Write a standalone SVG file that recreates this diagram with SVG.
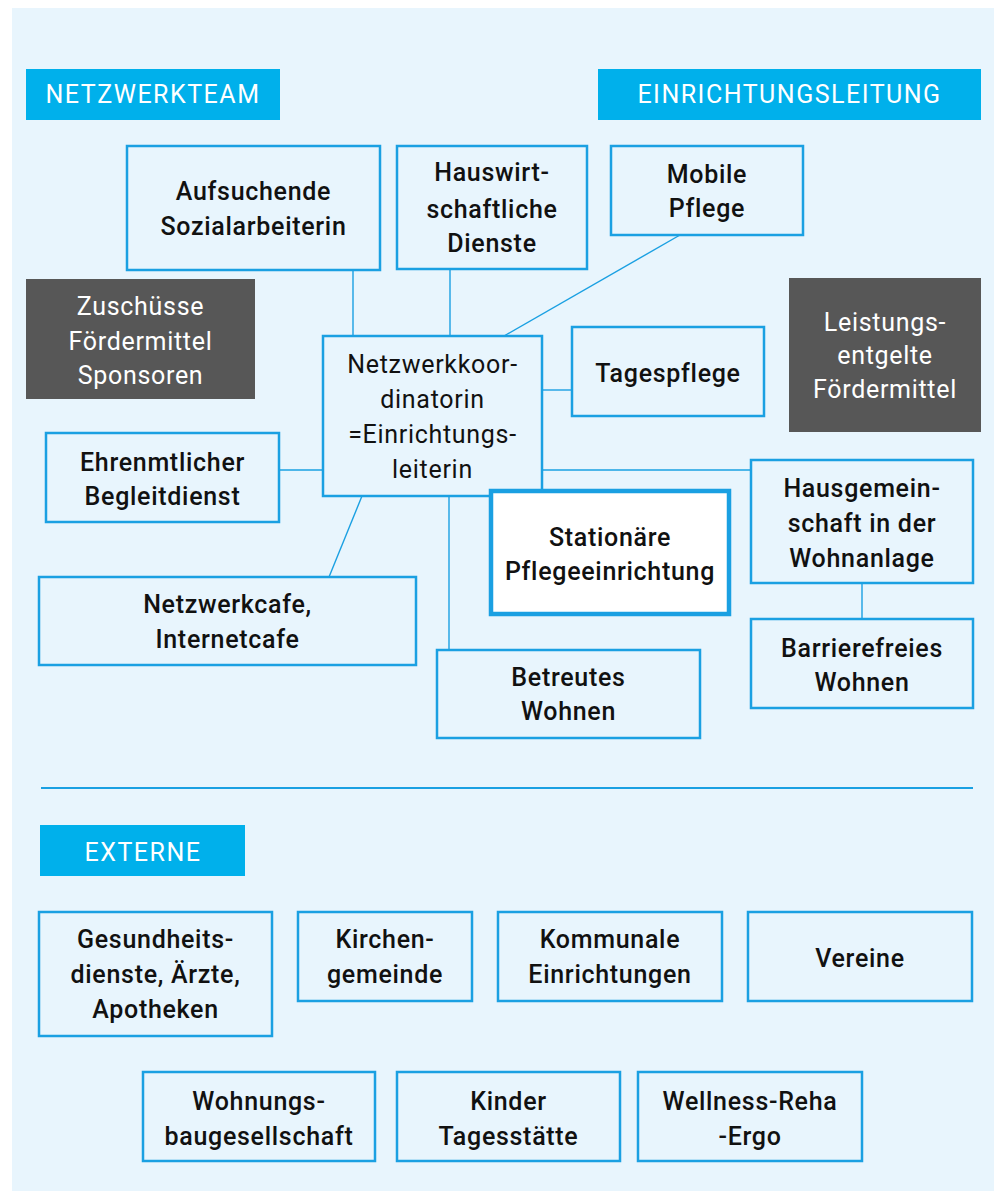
<svg xmlns="http://www.w3.org/2000/svg" width="994" height="1191" viewBox="0 0 994 1191">
<style>
.bx{fill:none;stroke:#1AA0E2;stroke-width:2.5}
.dk{fill:#575757}
.hd{fill:#00B0EB}
.t{font-family:Roboto,"Open Sans","Liberation Sans",sans-serif;font-size:25px;font-weight:500;fill:#111;text-anchor:middle;letter-spacing:0.7px}
.tl{font-weight:400}
.tw{fill:#fff;font-weight:400}
.th{font-family:Roboto,"Open Sans","Liberation Sans",sans-serif;font-size:25px;fill:#fff;text-anchor:middle;letter-spacing:1.5px}
.c{stroke:#1AA0E2;stroke-width:1.4;fill:none}
</style>
<rect x="12" y="8" width="982" height="1183" fill="#E8F5FD"/>
<g id="connectors">
<line class="c" x1="353" y1="270" x2="353" y2="336"/>
<line class="c" x1="450" y1="269" x2="450" y2="336"/>
<line class="c" x1="680" y1="235" x2="504" y2="336"/>
<line class="c" x1="542" y1="390" x2="572" y2="390"/>
<line class="c" x1="279" y1="470" x2="323" y2="470"/>
<line class="c" x1="542" y1="470" x2="751" y2="470"/>
<line class="c" x1="362" y1="496" x2="329" y2="577"/>
<line class="c" x1="449" y1="496" x2="449" y2="650"/>
<line class="c" x1="862" y1="583" x2="862" y2="619"/>
</g>
<line x1="41" y1="788" x2="973" y2="788" stroke="#1AA0E2" stroke-width="2"/>
<g id="netzwerkteam"><rect class="hd" x="26" y="69" width="254" height="51"/><text class="th" x="153" y="103">NETZWERKTEAM</text></g>
<g id="einrichtungsleitung"><rect class="hd" x="598" y="69" width="383" height="51"/><text class="th" x="789.5" y="103">EINRICHTUNGSLEITUNG</text></g>
<g id="externe"><rect class="hd" x="40" y="825" width="205" height="51"/><text class="th" x="143" y="861">EXTERNE</text></g>
<g id="aufsuchende"><rect class="bx" x="127" y="146" width="253" height="124"/><text class="t" x="253.5" y="200">Aufsuchende</text><text class="t" x="253.5" y="235">Sozialarbeiterin</text></g>
<g id="hauswirtschaft"><rect class="bx" x="397" y="146" width="190" height="123"/><text class="t" x="492" y="181">Hauswirt-</text><text class="t" x="492" y="218">schaftliche</text><text class="t" x="492" y="252">Dienste</text></g>
<g id="mobile"><rect class="bx" x="611" y="146" width="192" height="89"/><text class="t" x="707" y="183">Mobile</text><text class="t" x="707" y="217">Pflege</text></g>
<g id="tagespflege"><rect class="bx" x="572" y="327" width="192" height="89"/><text class="t" x="668" y="382">Tagespflege</text></g>
<g id="leistungsentgelte"><rect class="dk" x="789" y="278" width="192" height="154"/><text class="t tw" x="885" y="331">Leistungs-</text><text class="t tw" x="885" y="364">entgelte</text><text class="t tw" x="885" y="398">Fördermittel</text></g>
<g id="zuschuesse"><rect class="dk" x="26" y="279" width="229" height="120"/><text class="t tw" x="140.5" y="315">Zuschüsse</text><text class="t tw" x="140.5" y="350">Fördermittel</text><text class="t tw" x="140.5" y="384">Sponsoren</text></g>
<g id="koordinatorin"><rect class="bx" x="323" y="336" width="219" height="160"/><text class="t tl" x="432.5" y="373">Netzwerkkoor-</text><text class="t tl" x="432.5" y="408">dinatorin</text><text class="t tl" x="432.5" y="443">=Einrichtungs-</text><text class="t tl" x="432.5" y="478">leiterin</text></g>
<g id="ehrenamt"><rect class="bx" x="46" y="433" width="233" height="89"/><text class="t" x="162.5" y="471">Ehrenmtlicher</text><text class="t" x="162.5" y="505">Begleitdienst</text></g>
<g id="stationaer"><rect x="491" y="491" width="238" height="123" fill="#fff" stroke="#1AA0E2" stroke-width="4.5"/><text class="t" x="610" y="546">Stationäre</text><text class="t" x="610" y="580">Pflegeeinrichtung</text></g>
<g id="hausgemeinschaft"><rect class="bx" x="751" y="460" width="222" height="123"/><text class="t" x="862" y="497">Hausgemein-</text><text class="t" x="862" y="532">schaft in der</text><text class="t" x="862" y="567">Wohnanlage</text></g>
<g id="barrierefrei"><rect class="bx" x="751" y="619" width="222" height="89"/><text class="t" x="862" y="657">Barrierefreies</text><text class="t" x="862" y="691">Wohnen</text></g>
<g id="netzwerkcafe"><rect class="bx" x="39" y="577" width="377" height="88"/><text class="t" x="227.5" y="613">Netzwerkcafe,</text><text class="t" x="227.5" y="648">Internetcafe</text></g>
<g id="betreutes"><rect class="bx" x="437" y="650" width="263" height="88"/><text class="t" x="568.5" y="686">Betreutes</text><text class="t" x="568.5" y="720">Wohnen</text></g>
<g id="gesundheit"><rect class="bx" x="39" y="912" width="233" height="124"/><text class="t" x="155.5" y="948">Gesundheits-</text><text class="t" x="155.5" y="983">dienste, Ärzte,</text><text class="t" x="155.5" y="1018">Apotheken</text></g>
<g id="kirche"><rect class="bx" x="298" y="912" width="174" height="89"/><text class="t" x="385" y="948">Kirchen-</text><text class="t" x="385" y="983">gemeinde</text></g>
<g id="kommunal"><rect class="bx" x="498" y="912" width="224" height="89"/><text class="t" x="610" y="948">Kommunale</text><text class="t" x="610" y="983">Einrichtungen</text></g>
<g id="vereine"><rect class="bx" x="748" y="912" width="224" height="89"/><text class="t" x="860" y="967">Vereine</text></g>
<g id="wohnungsbau"><rect class="bx" x="143" y="1072" width="232" height="89"/><text class="t" x="259" y="1110">Wohnungs-</text><text class="t" x="259" y="1145">baugesellschaft</text></g>
<g id="kinder"><rect class="bx" x="397" y="1072" width="223" height="89"/><text class="t" x="508.5" y="1110">Kinder</text><text class="t" x="508.5" y="1145">Tagesstätte</text></g>
<g id="wellness"><rect class="bx" x="638" y="1072" width="224" height="89"/><text class="t" x="750" y="1110">Wellness-Reha</text><text class="t" x="750" y="1145">-Ergo</text></g>
</svg>
